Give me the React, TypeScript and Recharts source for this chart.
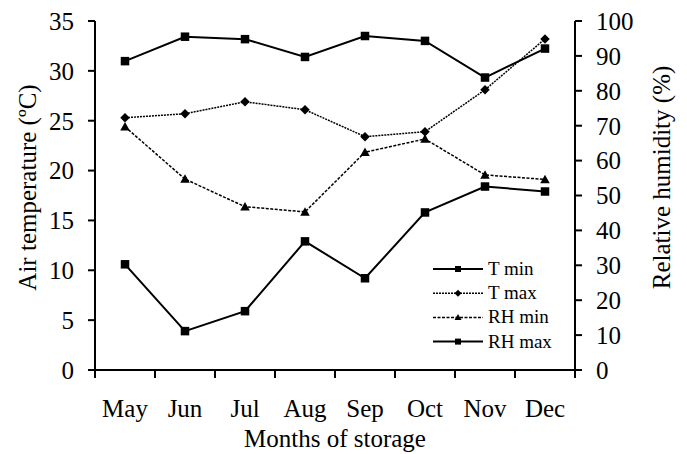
import React from "react";
import { Line, LineChart, XAxis, YAxis } from "recharts";

const months = ["May", "Jun", "Jul", "Aug", "Sep", "Oct", "Nov", "Dec"];
const tMin = [10.6, 3.9, 5.9, 12.9, 9.2, 15.8, 18.4, 17.9];
const tMax = [25.3, 25.7, 26.9, 26.1, 23.4, 23.9, 28.1, 33.2];
const rhMin = [69.7, 54.7, 46.8, 45.3, 62.4, 66.2, 55.9, 54.6];
const rhMax = [88.5, 95.5, 94.8, 89.7, 95.7, 94.3, 83.8, 92.1];
const tempTicks = [0, 5, 10, 15, 20, 25, 30, 35];
const rhTicks = [0, 10, 20, 30, 40, 50, 60, 70, 80, 90, 100];
const bandTicks = [0, 1, 2, 3, 4, 5, 6, 7, 8];

const data = months.map((m, i) => ({
  pos: i + 0.5,
  month: m,
  tMin: tMin[i],
  tMax: tMax[i],
  rhMin: rhMin[i],
  rhMax: rhMax[i],
}));

const FONT = "'Liberation Serif', 'Times New Roman', serif";
const FS = 25;

type Shape = "square" | "diamond" | "triangle";

const series: { key: string; name: string; axis: string; shape: Shape; dash?: string }[] = [
  { key: "tMin", name: "T min", axis: "temp", shape: "square" },
  { key: "tMax", name: "T max", axis: "temp", shape: "diamond", dash: "2 1" },
  { key: "rhMin", name: "RH min", axis: "rh", shape: "triangle", dash: "3 1.5" },
  { key: "rhMax", name: "RH max", axis: "rh", shape: "square" },
];

function marker(shape: Shape, cx: number, cy: number, s: number, key?: string) {
  if (shape === "square") {
    return <rect key={key} x={cx - s / 2} y={cy - s / 2} width={s} height={s} fill="#000" />;
  }
  if (shape === "diamond") {
    const h = s / 2 + 0.5;
    return <path key={key} d={`M${cx},${cy - h}L${cx + h},${cy}L${cx},${cy + h}L${cx - h},${cy}Z`} fill="#000" />;
  }
  const h = s / 2 + 0.5;
  return <path key={key} d={`M${cx},${cy - h}L${cx + h},${cy + h - 1}L${cx - h},${cy + h - 1}Z`} fill="#000" />;
}

function makeDot(shape: Shape) {
  return (props: any) => {
    const { cx, cy, index } = props;
    if (cx == null || cy == null) return <g key={index} />;
    return marker(shape, cx, cy, 8.5, `d${index}`);
  };
}

function MonthTick(props: any) {
  const { x, y, payload, index } = props;
  const half = 30;
  return (
    <g>
      <line x1={x} y1={y - 8} x2={x} y2={y} stroke="#000" strokeWidth={2} />
      {index < months.length && (
        <text x={x + half} y={y + 39} textAnchor="middle" fontFamily={FONT} fontSize={FS} fill="#000">
          {months[payload.value]}
        </text>
      )}
    </g>
  );
}

function LegendBox() {
  return (
    <svg width={170} height={100} style={{ position: "absolute", left: 430, top: 258 }}>
      {series.map((s, i) => {
        const y = 11 + i * 24.2;
        return (
          <g key={s.key}>
            <line x1={3} x2={53} y1={y} y2={y} stroke="#000" strokeWidth={s.dash ? 1.5 : 2} strokeDasharray={s.dash} />
            {marker(s.shape, 28, y, 6)}
            <text x={58} y={y + 6} fontFamily={FONT} fontSize={19} fill="#000">
              {s.name}
            </text>
          </g>
        );
      })}
    </svg>
  );
}

export default function App() {
  return (
    <div style={{ position: "absolute", left: 0, top: 0, width: 687, height: 454, background: "#fff" }}>
      <LineChart width={687} height={454} data={data} margin={{ top: 21, right: 52, bottom: 0, left: 35 }}>
        <XAxis
          dataKey="pos"
          type="number"
          domain={[0, 8]}
          ticks={bandTicks}
          interval={0}
          height={84}
          axisLine={{ stroke: "#000", strokeWidth: 2 }}
          tickLine={false}
          tick={<MonthTick />}
          label={(p: any) => {
            const vb = p.viewBox;
            return (
              <text x={vb.x + vb.width / 2} y={vb.y + 77} textAnchor="middle" fontFamily={FONT} fontSize={FS} fill="#000">
                Months of storage
              </text>
            );
          }}
        />
        <YAxis
          yAxisId="temp"
          domain={[0, 35]}
          ticks={tempTicks}
          interval={0}
          width={60}
          tickSize={7}
          tickMargin={14}
          axisLine={{ stroke: "#000", strokeWidth: 2 }}
          tickLine={{ stroke: "#000", strokeWidth: 2 }}
          tick={{ fill: "#000", fontSize: FS, fontFamily: FONT }}
          label={(p: any) => {
            const vb = p.viewBox;
            const cx = vb.x - 8;
            const cy = vb.y + vb.height / 2 - 8;
            return (
              <text x={cx} y={cy} transform={`rotate(-90 ${cx} ${cy})`} textAnchor="middle" dominantBaseline="central" fontFamily={FONT} fontSize={FS} fill="#000">
                Air temperature (ºC)
              </text>
            );
          }}
        />
        <YAxis
          yAxisId="rh"
          orientation="right"
          domain={[0, 100]}
          ticks={rhTicks}
          interval={0}
          width={60}
          tickSize={7}
          tickMargin={14}
          axisLine={{ stroke: "#000", strokeWidth: 2 }}
          tickLine={{ stroke: "#000", strokeWidth: 2 }}
          tick={{ fill: "#000", fontSize: FS, fontFamily: FONT }}
          label={(p: any) => {
            const vb = p.viewBox;
            const cx = vb.x + vb.width + 26;
            const cy = vb.y + vb.height / 2 - 18;
            return (
              <text x={cx} y={cy} transform={`rotate(-90 ${cx} ${cy})`} textAnchor="middle" dominantBaseline="central" fontFamily={FONT} fontSize={FS} fill="#000">
                Relative humidity (%)
              </text>
            );
          }}
        />
        {series.map((s) => (
          <Line
            key={s.key}
            yAxisId={s.axis}
            dataKey={s.key}
            name={s.name}
            type="linear"
            stroke="#000"
            strokeWidth={s.dash ? 1.5 : 2}
            strokeDasharray={s.dash}
            dot={makeDot(s.shape)}
            activeDot={false}
            isAnimationActive={false}
          />
        ))}
      </LineChart>
      <LegendBox />
    </div>
  );
}
